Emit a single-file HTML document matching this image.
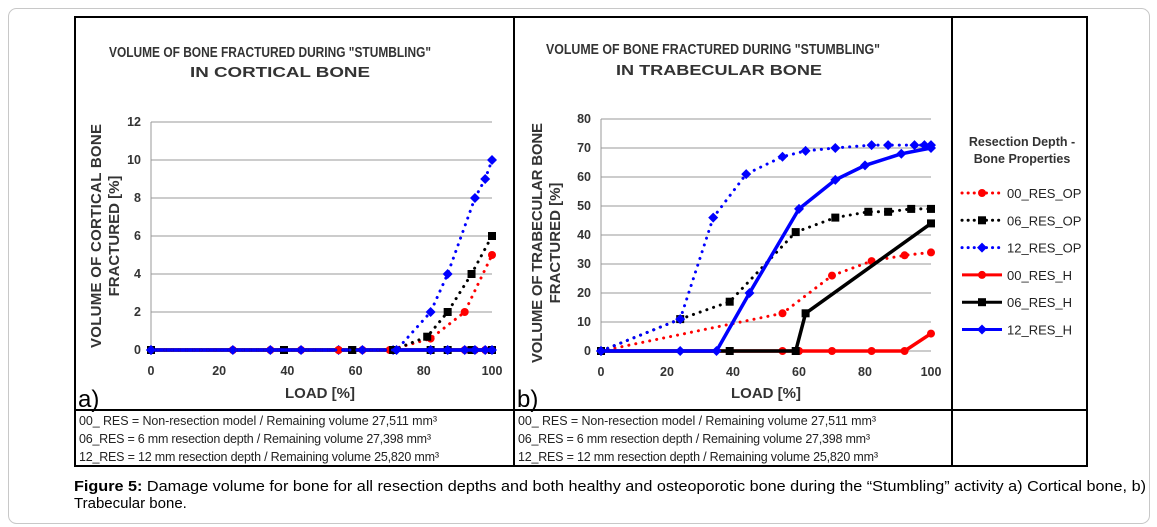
<!DOCTYPE html>
<html><head><meta charset="utf-8"><style>
body{margin:0;background:#fff;}
svg{display:block;font-family:"Liberation Sans",sans-serif;}
</style></head><body>
<svg id="s" width="1157" height="527" xmlns="http://www.w3.org/2000/svg">
<rect x="8.5" y="8.5" width="1141" height="515" rx="8" fill="#fff" stroke="#c8c8c8"/>
<rect x="75" y="17" width="1012" height="449" fill="#fff" stroke="#000" stroke-width="2"/>
<line x1="514" y1="17" x2="514" y2="466" stroke="#000" stroke-width="2"/>
<line x1="952" y1="17" x2="952" y2="466" stroke="#000" stroke-width="2"/>
<line x1="75" y1="410" x2="1087" y2="410" stroke="#000" stroke-width="2"/>
<g font-weight="bold" font-size="14.5" fill="#333" text-anchor="middle">
<text x="270" y="57" textLength="322" lengthAdjust="spacingAndGlyphs">VOLUME OF BONE FRACTURED DURING "STUMBLING"</text>
<text x="280" y="77" textLength="180" lengthAdjust="spacingAndGlyphs">IN CORTICAL BONE</text>
<text x="713" y="54" textLength="334" lengthAdjust="spacingAndGlyphs">VOLUME OF BONE FRACTURED DURING "STUMBLING"</text>
<text x="719" y="75" textLength="206" lengthAdjust="spacingAndGlyphs">IN TRABECULAR BONE</text>
<text x="320" y="398" font-size="15">LOAD [%]</text>
<text x="766" y="398" font-size="15">LOAD [%]</text>
<text transform="translate(101,236) rotate(-90)" font-size="15" textLength="224">VOLUME OF CORTICAL BONE</text>
<text transform="translate(119,236) rotate(-90)" font-size="15">FRACTURED [%]</text>
<text transform="translate(542,243) rotate(-90)" font-size="15" textLength="240">VOLUME OF TRABECULAR  BONE</text>
<text transform="translate(560,243) rotate(-90)" font-size="15">FRACTURED [%]</text>
<text x="1022" y="146" font-size="12.5">Resection Depth -</text>
<text x="1022" y="163" font-size="12.5">Bone Properties</text>
</g>
<text x="78" y="407" font-size="24" fill="#000">a)</text>
<text x="517" y="407" font-size="24" fill="#000">b)</text>
<g font-size="12.5" fill="#222">
<text x="79" y="425" textLength="358">00_ RES = Non-resection model / Remaining volume 27,511 mm³</text>
<text x="79" y="443" textLength="352">06_RES = 6 mm resection depth / Remaining volume 27,398 mm³</text>
<text x="79" y="461" textLength="360">12_RES = 12 mm resection depth / Remaining volume 25,820 mm³</text>
<text x="518" y="425" textLength="358">00_ RES = Non-resection model / Remaining volume 27,511 mm³</text>
<text x="518" y="443" textLength="352">06_RES = 6 mm resection depth / Remaining volume 27,398 mm³</text>
<text x="518" y="461" textLength="360">12_RES = 12 mm resection depth / Remaining volume 25,820 mm³</text>
</g>
<text x="74" y="491" font-size="15" fill="#000" textLength="1072" lengthAdjust="spacingAndGlyphs"><tspan font-weight="bold">Figure 5:</tspan> Damage volume for bone for all resection depths and both healthy and osteoporotic bone during the “Stumbling” activity a) Cortical bone, b)</text>
<text x="74" y="508" font-size="15" fill="#000">Trabecular bone.</text>
<g id="g"></g>
</svg>
<script>
const g=document.getElementById('g');let h='';
const C={r:'#f00',k:'#000',b:'#00f'};
function axes(x0,x1,y0,y1,max,step){
 for(let v=0;v<=max;v+=step){const y=y0+(y1-y0)*v/max;
  h+=`<line x1="${x0}" x2="${x1}" y1="${y}" y2="${y}" stroke="#999"/>`;
  h+=`<text x="${x0-10}" y="${y+4}" font-size="12.5" font-weight="bold" fill="#333" text-anchor="end">${v}</text>`;}
 h+=`<line x1="${x0}" x2="${x0}" y1="${y1}" y2="${y0}" stroke="#999"/>`;
 for(let v=0;v<=100;v+=20){const x=x0+(x1-x0)*v/100;h+=`<text x="${x}" y="${y0+25}" font-size="12.5" font-weight="bold" fill="#333" text-anchor="middle">${v}</text>`;}
}
function mk(x,y,c,t){
 if(t=='o')h+=`<circle cx="${x}" cy="${y}" r="4" fill="${c}"/>`;
 else if(t=='s')h+=`<rect x="${x-4}" y="${y-4}" width="8" height="8" fill="${c}"/>`;
 else h+=`<path d="M${x-5} ${y}L${x} ${y-5}L${x+5} ${y}L${x} ${y+5}Z" fill="${c}"/>`;
}
function ser(x0,x1,y0,y1,max,pts,c,t,dot){
 const P=pts.map(p=>[x0+(x1-x0)*p[0]/100,y0+(y1-y0)*p[1]/max]);
 h+=`<polyline points="${P.map(p=>p.join(',')).join(' ')}" fill="none" stroke="${c}" stroke-width="${dot?3:3.5}" ${dot?'stroke-dasharray="0.1 7" stroke-linecap="round"':''}/>`;
 P.forEach(p=>mk(p[0],p[1],c,t));
}
axes(151,492,350,122,12,2);
axes(601,931,351,119,80,10);
const L=[151,492,350,122,12];
ser(...L,[[0,0],[24,0],[35,0],[44,0],[55,0],[62,0],[71,0],[82,0],[87,0],[92,0],[95,0],[98,0],[100,0]],C.r,'o',0);
ser(...L,[[0,0],[39,0],[59,0],[71,0],[82,0],[87,0],[94,0],[100,0]],C.k,'s',0);
ser(...L,[[0,0],[24,0],[35,0],[44,0],[55,0],[62,0],[71,0],[82,0],[87,0],[92,0],[95,0],[98,0],[100,0]],C.b,'d',0);
ser(...L,[[0,0],[55,0],[70,0],[82,0.6],[92,2],[100,5]],C.r,'o',1);
ser(...L,[[0,0],[59,0],[71,0],[81,0.7],[87,2],[94,4],[100,6]],C.k,'s',1);
ser(...L,[[0,0],[72,0],[82,2],[87,4],[95,8],[98,9],[100,10]],C.b,'d',1);
const R=[601,931,351,119,80];
ser(...R,[[0,0],[55,13],[70,26],[82,31],[92,33],[100,34]],C.r,'o',1);
ser(...R,[[0,0],[24,11],[39,17],[59,41],[71,46],[81,48],[87,48],[94,49],[100,49]],C.k,'s',1);
ser(...R,[[0,0],[24,11],[34,46],[44,61],[55,67],[62,69],[71,70],[82,71],[87,71],[95,71],[98,71],[100,71]],C.b,'d',1);
ser(...R,[[0,0],[55,0],[60,0],[70,0],[82,0],[92,0],[100,6]],C.r,'o',0);
ser(...R,[[0,0],[39,0],[59,0],[62,13],[100,44]],C.k,'s',0);
ser(...R,[[0,0],[24,0],[35,0],[45,20],[60,49],[71,59],[80,64],[91,68],[100,70]],C.b,'d',0);
const leg=[['00_RES_OP',C.r,'o',1],['06_RES_OP',C.k,'s',1],['12_RES_OP',C.b,'d',1],['00_RES_H',C.r,'o',0],['06_RES_H',C.k,'s',0],['12_RES_H',C.b,'d',0]];
leg.forEach((l,i)=>{const y=193+i*27.3;
 h+=`<line x1="962" x2="1002" y1="${y}" y2="${y}" stroke="${l[1]}" stroke-width="3" ${l[3]?'stroke-dasharray="0.1 6" stroke-linecap="round"':''}/>`;
 mk(982,y,l[1],l[2]);
 h+=`<text x="1007" y="${y+5}" font-size="13" fill="#222">${l[0]}</text>`;});
g.innerHTML=h;
</script>
</body></html>
